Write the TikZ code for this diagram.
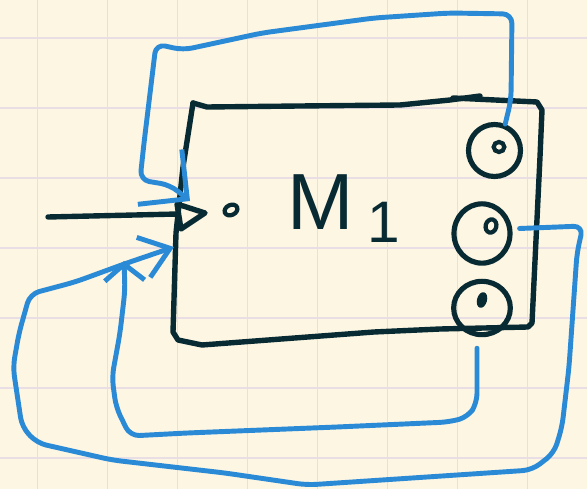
\documentclass[tikz,border=0pt]{standalone}
\usepackage{fontspec}
\setmainfont{Liberation Sans}
\usepackage{xcolor}
\usetikzlibrary{shapes.geometric,arrows.meta}

\definecolor{paper}{HTML}{FDF6E3}
\definecolor{gridline}{HTML}{E8DEE4}
\definecolor{ink}{HTML}{082A33}
\definecolor{pen}{HTML}{2A8AD6}

\tikzset{
  inkline/.style={draw=ink, line width=4.6pt, line cap=round, line join=round},
  wire/.style={draw=pen, line width=4.2pt, line cap=round, line join=round, rounded corners=8pt},
  port/.style={ellipse, draw=ink, line width=4.4pt, inner sep=0pt},
  pip/.style={ellipse, draw=ink, line width=3.6pt, inner sep=0pt}
}

\begin{document}
\begin{tikzpicture}[x=0.03cm, y=-0.03cm]

\fill[paper] (0,0) rectangle (587,489);
\useasboundingbox (0,0) rectangle (587,489);

\foreach \gx in {37.5,107.5,...,527.5} {
	\draw[gridline, line width=1.6pt] (\gx,0)--(\gx,489);
}
\foreach \gy in {38,108,...,458} {
	\draw[gridline, line width=1.6pt] (0,\gy)--(587,\gy);
}

% block M1
\draw[inkline] (193,103)--(207,107)--(300,106)--(400,105)--(450,100)--(480,96);
\draw[inkline] (453,98)--(537,102)--(542,110)--(540,157)--(532,323)--(528,327)
	--(440,329)--(374,332)--(202,345)--(178,340)--(173,332)--(176,233)--(183,167)--(193,103);

\node[port, minimum width=1.56cm, minimum height=1.56cm] (c1) at (494.5,150.5) {};
\node[port, minimum width=1.68cm, minimum height=1.78cm] (c2) at (482,233.5) {};
\node[port, minimum width=1.7cm, minimum height=1.6cm] (c3) at (482,308) {};
\node[pip, minimum width=0.32cm, minimum height=0.3cm] (c1dot) at (499,147) {};
\node[pip, minimum width=0.32cm, minimum height=0.4cm, rotate=-15] (c2dot) at (491,226) {};
\node[ellipse, fill=ink, inner sep=0pt, minimum width=0.3cm, minimum height=0.48cm, rotate=-15] (c3dot) at (482,300) {};

\node[anchor=base west, text=ink, inner sep=0pt] (m1) at (287,230)
	{\fontsize{68}{68}\selectfont M\hspace{12pt}\raisebox{-11pt}{\fontsize{50}{50}\selectfont 1}};

% input
\coordinate (src) at (48,217);
\coordinate (inp) at (178,214);
\draw[inkline] (src)--(inp);
\draw[inkline] (177,204)--(205,213)--(181,229)--cycle;
\node[pip, minimum width=0.4cm, minimum height=0.3cm, rotate=25] (idot) at (231,210) {};

% feedback wires
\coordinate (in1) at (190,201);
\coordinate (in2) at (174,247);
\coordinate (in3) at (124,261);

\draw[wire, -{Straight Barb[length=30pt, width=60pt]}] (c1.68)--(511,100)--(512,14)--(449,13)--(374,18)--(262,33)
	--(183,50)--(156,44)--(144,143)--(140,180)--(170,185)--(in1);

\draw[wire, -{Straight Barb[length=24pt, width=36pt]}] (c2.east) ++(7,-5)--(583,226)--(577,253)--(569,367)--(562,427)
	--(554,453)--(532,470)--(487,473)--(307,485)--(225,473)--(112,460)--(37,443)--(22,427)
	--(13,367)--(19,333)--(30,294)--(75,282)--(127,263)--(in2);

\draw[wire, -{Straight Barb[length=14pt, width=34pt]}] (c3.south) ++(-5,11)--(477,403)--(468,417)--(449,422)--(337,427)
	--(187,433)--(130,436)--(116,407)--(112,377)--(120,333)--(125,290)--(in3);

\end{tikzpicture}
\end{document}
